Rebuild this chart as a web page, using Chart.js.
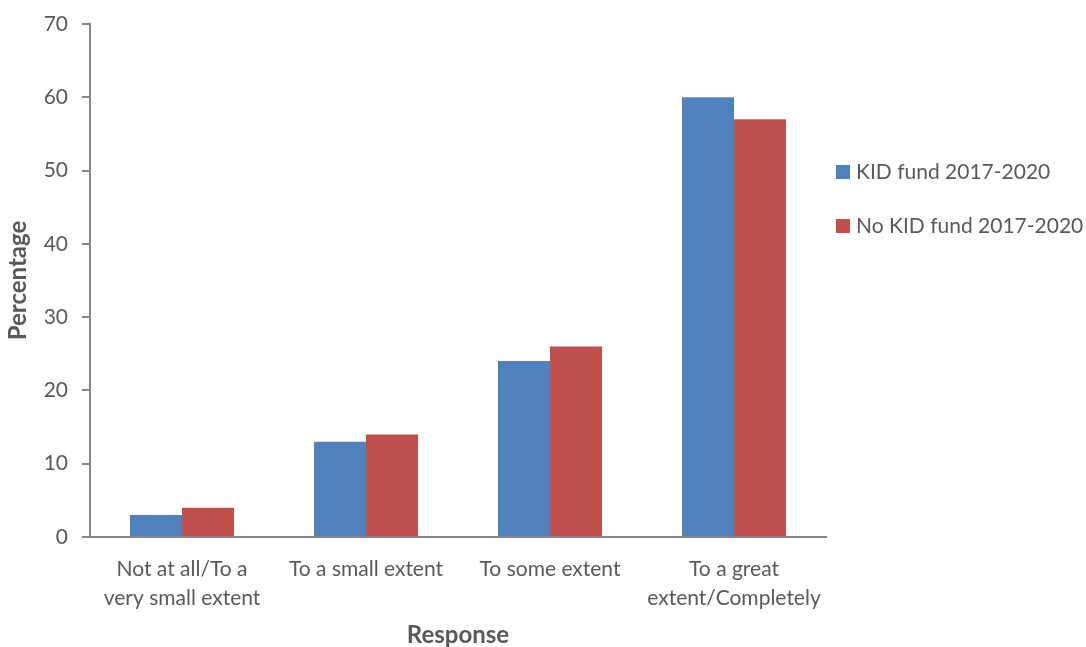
<!DOCTYPE html>
<html>
<head>
<meta charset="utf-8">
<script src="https://cdn.jsdelivr.net/npm/chart.js@4"></script>
<style>
  html, body { margin: 0; padding: 0; background: #fff; }
  #wrap { position: relative; width: 1086px; height: 647px; }
  #legend { position: absolute; left: 836px; top: 158px; font-family: Lato, "Open Sans", sans-serif; font-size: 21px; color: #595959; }
  #legend div { height: 54px; display: flex; align-items: flex-start; }
  #legend span.box { display: inline-block; width: 14px; height: 14px; margin: 7px 6px 0 0; }
</style>
</head>
<body>
<div id="wrap">
  <canvas id="chart" width="1086" height="647"></canvas>
  <div id="legend"></div>
</div>
<script>
const categories = [
  ['Not at all/To a', 'very small extent'],
  'To a small extent',
  'To some extent',
  ['To a great', 'extent/Completely']
];
const seriesNames = ['KID fund 2017-2020', 'No KID fund 2017-2020'];
const kidFund = [3, 13, 24, 60];
const noKidFund = [4, 14, 26, 57];
const colors = ['#4F81BD', '#C0504D'];

const fontFamily = 'Lato, "Open Sans", sans-serif';
const axisColor = '#868686';
const textColor = '#595959';

const legend = document.getElementById('legend');
seriesNames.forEach((name, i) => {
  legend.insertAdjacentHTML('beforeend',
    `<div><span class="box" style="background:${colors[i]}"></span>${name}</div>`);
});

const ctx = document.getElementById('chart').getContext('2d');
new Chart(ctx, {
  type: 'bar',
  data: {
    labels: categories,
    datasets: [
      { label: seriesNames[0], data: kidFund, backgroundColor: colors[0] },
      { label: seriesNames[1], data: noKidFund, backgroundColor: colors[1] }
    ]
  },
  options: {
    responsive: false,
    animation: false,
    layout: { padding: { left: 0, right: 260, top: 24, bottom: 0 } },
    plugins: { legend: { display: false }, tooltip: { enabled: false } },
    datasets: { bar: { categoryPercentage: 0.565, barPercentage: 1 } },
    scales: {
      x: {
        grid: { display: false },
        border: { color: axisColor, width: 2 },
        ticks: { color: textColor, font: { family: fontFamily, size: 21, lineHeight: 1.42 }, padding: 9, maxRotation: 0, autoSkip: false },
        title: { display: true, text: 'Response', color: textColor, font: { family: fontFamily, size: 24, weight: 'bold' }, padding: { top: 0, bottom: -3 } },
        afterFit: (scale) => { scale.height = 110; scale.paddingLeft = 0; scale.paddingRight = 0; }
      },
      y: {
        min: 0, max: 70,
        ticks: { stepSize: 10, color: textColor, font: { family: fontFamily, size: 21 }, padding: 14 },
        grid: { drawOnChartArea: false, drawTicks: true, tickLength: 8, color: axisColor, lineWidth: 2 },
        border: { color: axisColor, width: 2 },
        title: { display: true, text: 'Percentage', color: textColor, font: { family: fontFamily, size: 24, weight: 'bold' }, padding: { bottom: 0 } },
        afterFit: (scale) => { scale.width = 90; scale.paddingTop = 0; scale.paddingBottom = 0; }
      }
    }
  }
});
</script>
</body>
</html>
